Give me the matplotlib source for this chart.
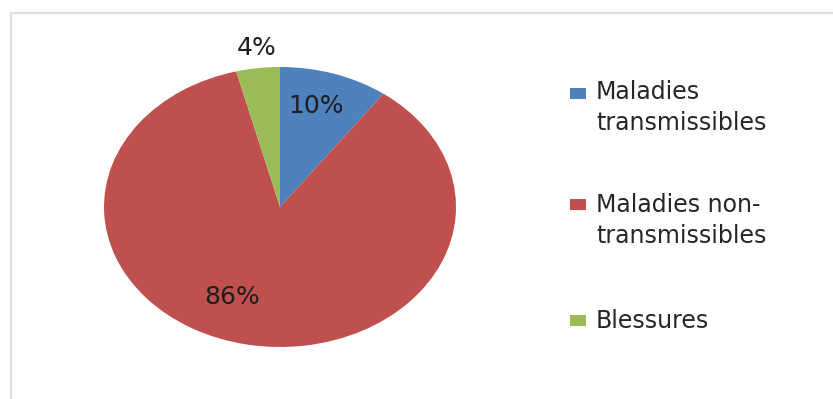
import numpy as np
import matplotlib
matplotlib.use("Agg")
import matplotlib.pyplot as plt
from matplotlib.patches import Rectangle

# ── Data ───────────────────────────────────────────────────────────────────────
categories = ["Maladies\ntransmissibles", "Maladies non-\ntransmissibles", "Blessures"]
shares     = [10, 86, 4]
colors     = ["#4F81BD", "#C0504D", "#9BBB59"]

# label placement: (distance from centre, angle shift in degrees)
label_place = [(0.75, 2.0), (0.70, -12.0), (1.145, -0.5)]

W, H = 833, 399
fig = plt.figure(figsize=(W / 100, H / 100), dpi=100)
fig.patch.set_facecolor("white")

# light chart-area frame, open to the right and bottom
fig.add_artist(Rectangle((11 / W, -0.05), 1.1, 1 - 13 / H + 0.05,
                         transform=fig.transFigure, fill=False,
                         edgecolor="#d6deea", linewidth=1.5))

# pie axes spans the (horizontally stretched) ellipse
cx, cy, rx, ry = 280, 207, 176, 140
ax = fig.add_axes([(cx - rx) / W, (H - cy - ry) / H, 2 * rx / W, 2 * ry / H])
wedges, _ = ax.pie(shares, colors=colors, startangle=90, counterclock=False,
                   radius=1.0, wedgeprops=dict(linewidth=0))
ax.set_aspect("auto")
ax.set_xlim(-1, 1)
ax.set_ylim(-1, 1)
ax.axis("off")

total = sum(shares)
for w, val, (dist, shift) in zip(wedges, shares, label_place):
    mid = np.deg2rad((w.theta1 + w.theta2) / 2 + shift)
    ax.text(dist * np.cos(mid), dist * np.sin(mid), f"{val / total * 100:.0f}%",
            ha="center", va="center", fontsize=18, color="#1e1e1e",
            family="DejaVu Sans")

# legend drawn by hand: square key + label (baseline = last line)
key_x, text_x = 570, 596
key_tops  = [88, 199, 315]
baselines = [130, 243, 328]
for col, lab, kt, bl in zip(colors, categories, key_tops, baselines):
    fig.add_artist(Rectangle((key_x / W, 1 - (kt + 11) / H), 16 / W, 11 / H,
                             transform=fig.transFigure, facecolor=col,
                             edgecolor="none"))
    fig.text(text_x / W, 1 - bl / H, lab, ha="left", va="baseline",
             fontsize=17, color="#262626", linespacing=1.38,
             family="DejaVu Sans")

fig.savefig("out.png", dpi=100, facecolor="white")
